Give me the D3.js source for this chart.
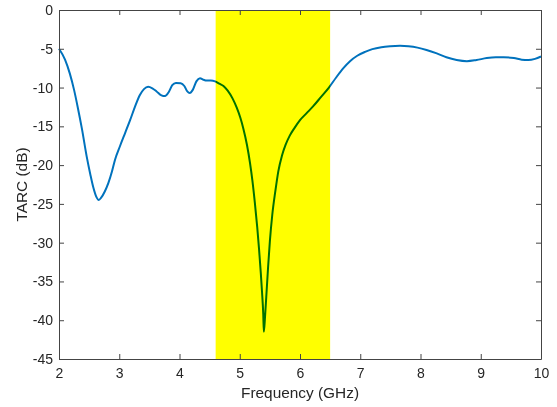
<!DOCTYPE html>
<html>
<head>
<meta charset="utf-8">
<script src="https://cdn.jsdelivr.net/npm/d3@7"></script>
<style>
  body { margin: 0; background: #fff; }
  svg { display: block; font-family: Arial, "Liberation Sans", sans-serif; }
  .axis path, .axis line { stroke: #444; }
  .axis text { fill: #262626; font-size: 14px; }
  .label { fill: #262626; font-size: 15.4px; }
</style>
</head>
<body>
<script>
// frequency (GHz) and TARC (dB)
const freq = [
  2.00, 2.10, 2.18, 2.25, 2.31, 2.38, 2.46, 2.52, 2.57, 2.62,
  2.66, 2.70, 2.76, 2.82, 2.88, 2.93, 3.01, 3.10, 3.18, 3.26,
  3.34, 3.41, 3.48, 3.55, 3.62, 3.70, 3.76, 3.82, 3.88, 3.94,
  4.02, 4.08, 4.13, 4.17, 4.22, 4.28, 4.34, 4.40, 4.45, 4.52,
  4.59, 4.66, 4.73, 4.80, 4.88, 4.95, 5.01, 5.06, 5.12, 5.17,
  5.21, 5.25, 5.29, 5.32, 5.35, 5.37, 5.39, 5.40, 5.42, 5.44,
  5.47, 5.50, 5.54, 5.59, 5.64, 5.70, 5.76, 5.83, 5.91, 6.00,
  6.11, 6.22, 6.35, 6.48, 6.60, 6.72, 6.83, 6.95, 7.08, 7.20,
  7.35, 7.50, 7.66, 7.80, 7.95, 8.10, 8.27, 8.43, 8.60, 8.77,
  8.93, 9.10, 9.25, 9.38, 9.55, 9.68, 9.79, 9.90, 10.00
];
const tarc = [
  -5.0, -6.4, -8.2, -10.3, -12.5, -15.3, -18.9, -21.2, -22.9, -24.1,
  -24.5, -24.2, -23.4, -22.3, -20.8, -19.3, -17.6, -15.8, -14.2, -12.5,
  -11.0, -10.2, -9.9, -10.1, -10.5, -11.0, -11.1, -10.6, -9.7, -9.4,
  -9.45, -9.8, -10.5, -10.7, -10.3, -9.2, -8.8, -9.0, -9.1, -9.1,
  -9.2, -9.5, -9.8, -10.4, -11.4, -12.6, -13.9, -15.3, -17.4, -19.7,
  -22.0, -24.8, -28.0, -30.8, -34.0, -36.4, -39.2, -41.5, -39.5, -37.0,
  -33.2, -29.8, -26.4, -23.4, -20.8, -18.8, -17.4, -16.2, -15.2, -14.2,
  -13.3, -12.4, -11.2, -10.0, -8.7, -7.5, -6.6, -5.9, -5.4, -5.05,
  -4.8, -4.68, -4.62, -4.68, -4.85, -5.15, -5.6, -6.1, -6.45, -6.6,
  -6.45, -6.2, -6.1, -6.1, -6.2, -6.4, -6.45, -6.3, -6.0
];
const band = [4.6, 6.5];
const xTicks = [2, 3, 4, 5, 6, 7, 8, 9, 10];
const yTicks = [0, -5, -10, -15, -20, -25, -30, -35, -40, -45];

const width = 557;
const height = 407;
const margin = { top: 10, right: 16, bottom: 48, left: 59 };
const w = width - margin.left - margin.right;
const h = height - margin.top - margin.bottom;

const svg = d3.select("body").append("svg")
  .attr("width", width)
  .attr("height", height);

const g = svg.append("g")
  .attr("transform", `translate(${margin.left}, ${margin.top})`);

const x = d3.scaleLinear().domain([2, 10]).range([0, w]);
const y = d3.scaleLinear().domain([-45, 0]).range([h, 0]);

const data = freq.map((f, i) => ({ f, v: tarc[i] }));

const line = d3.line()
  .x((d) => x(d.f))
  .y((d) => y(d.v))
  .curve(d3.curveMonotoneX);

g.append("path")
  .datum(data)
  .attr("fill", "none")
  .attr("stroke", "#0072BD")
  .attr("stroke-width", 2)
  .attr("d", line);

// yellow band, multiplied over the trace so it turns green
g.append("rect")
  .attr("x", x(band[0]))
  .attr("width", x(band[1]) - x(band[0]))
  .attr("y", y(0))
  .attr("height", y(-45) - y(0))
  .attr("fill", "#ffff00")
  .style("mix-blend-mode", "multiply");

// axes, ticks pointing in, box on (plain hyphen minus like matlab)
const plain = (d) => String(d);
g.append("g").attr("class", "axis")
  .attr("transform", `translate(0, ${h})`)
  .call(d3.axisBottom(x).tickValues(xTicks).tickSize(-5).tickSizeOuter(0).tickPadding(9).tickFormat(plain));
g.append("g").attr("class", "axis")
  .call(d3.axisTop(x).tickValues(xTicks).tickSize(-5).tickSizeOuter(0).tickFormat(""));
g.append("g").attr("class", "axis")
  .call(d3.axisLeft(y).tickValues(yTicks).tickSize(-5).tickSizeOuter(0).tickPadding(6).tickFormat(plain));
g.append("g").attr("class", "axis")
  .attr("transform", `translate(${w}, 0)`)
  .call(d3.axisRight(y).tickValues(yTicks).tickSize(-5).tickSizeOuter(0).tickFormat(""));

g.append("text")
  .attr("class", "label")
  .attr("x", w / 2)
  .attr("y", h + 39)
  .attr("text-anchor", "middle")
  .text("Frequency (GHz)");

g.append("text")
  .attr("class", "label")
  .attr("transform", `translate(${22 - margin.left}, ${h / 2}) rotate(-90)`)
  .attr("text-anchor", "middle")
  .attr("dy", "0.35em")
  .text("TARC (dB)");
</script>
</body>
</html>
